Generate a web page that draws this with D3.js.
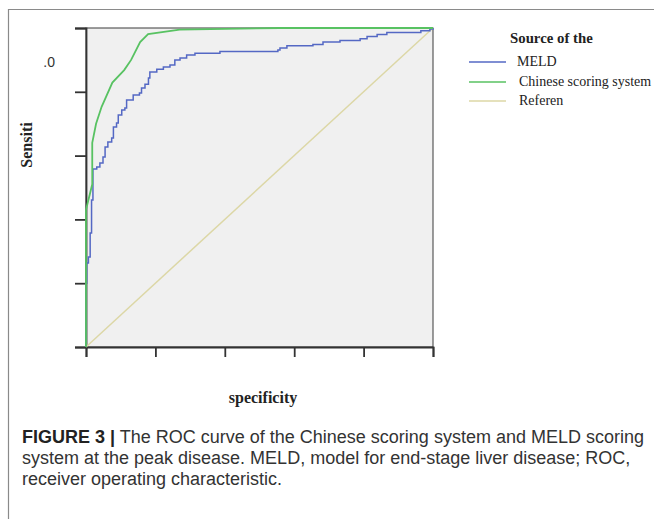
<!DOCTYPE html>
<html>
<head>
<meta charset="utf-8">
<script src="https://cdn.jsdelivr.net/npm/d3@7"></script>
<style>
  body { margin: 0; background: #fff; }
  svg { display: block; }
</style>
</head>
<body>
<svg id="chart"></svg>
<script>
// ROC curve points (1 - specificity, sensitivity)
const meldFpr = [0, 0, 0.002, 0.007, 0.012, 0.016, 0.02, 0.031, 0.04, 0.049, 0.055, 0.063, 0.074, 0.079, 0.088, 0.093, 0.103, 0.112, 0.117, 0.136, 0.154, 0.16, 0.17, 0.18, 0.184, 0.204, 0.223, 0.242, 0.256, 0.271, 0.29, 0.314, 0.386, 0.553, 0.559, 0.579, 0.654, 0.683, 0.732, 0.79, 0.81, 0.839, 0.867, 0.965, 0.991, 1];
const meldTpr = [0, 0.2, 0.263, 0.282, 0.357, 0.461, 0.558, 0.564, 0.577, 0.596, 0.627, 0.643, 0.655, 0.69, 0.702, 0.727, 0.743, 0.749, 0.774, 0.79, 0.796, 0.812, 0.824, 0.843, 0.862, 0.871, 0.878, 0.884, 0.9, 0.906, 0.915, 0.921, 0.926, 0.931, 0.937, 0.944, 0.948, 0.956, 0.961, 0.966, 0.973, 0.98, 0.986, 0.991, 0.997, 1];

const chineseFpr = [0, 0, 0.018, 0.018, 0.029, 0.045, 0.076, 0.11, 0.13, 0.156, 0.179, 0.27, 0.56, 1];
const chineseTpr = [0, 0.43, 0.51, 0.64, 0.70, 0.753, 0.829, 0.868, 0.90, 0.956, 0.981, 0.995, 1, 1];

const referenceFpr = [0, 1];
const referenceTpr = [0, 1];

const tickValues = [0, 0.2, 0.4, 0.6, 0.8, 1];
const legendLabels = ["MELD", "Chinese scoring system", "Referen"];
const legendColors = ["#5468c4", "#58c262", "#dcd7a6"];

const width = 654;
const height = 519;

const svg = d3.select("#chart").attr("width", width).attr("height", height);

// frame left & top (cropped figure border)
svg.append("path")
    .attr("d", "M8.5,519 V9.5 H654")
    .attr("fill", "none")
    .attr("stroke", "#8a8a8a")
    .attr("stroke-width", 1.2);

const plot = { left: 86, right: 433, top: 28, bottom: 347 };

const x = d3.scaleLinear().domain([0, 1]).range([plot.left, plot.right]);
const y = d3.scaleLinear().domain([0, 1]).range([plot.bottom, plot.top]);

svg.append("rect")
    .attr("x", plot.left)
    .attr("y", plot.top)
    .attr("width", plot.right - plot.left)
    .attr("height", plot.bottom - plot.top)
    .attr("fill", "#f0f0f0")
    .attr("stroke", "#3a3a3a")
    .attr("stroke-width", 1);

// axes without tick labels
const xAxis = svg.append("g")
    .attr("transform", `translate(0,${plot.bottom})`)
    .call(d3.axisBottom(x).tickValues(tickValues).tickSize(10).tickFormat(""));
const yAxis = svg.append("g")
    .attr("transform", `translate(${plot.left},0)`)
    .call(d3.axisLeft(y).tickValues(tickValues).tickSize(11).tickFormat(""));

[xAxis, yAxis].forEach(g => {
    g.select(".domain").attr("stroke", "#333").attr("stroke-width", 1.8);
    g.selectAll(".tick line").attr("stroke", "#333").attr("stroke-width", 1.8);
});

// curves
const line = d3.line().x(d => x(d[0])).y(d => y(d[1]));
const stepLine = d3.line().x(d => x(d[0])).y(d => y(d[1])).curve(d3.curveStepAfter);

svg.append("path")
    .datum(d3.zip(referenceFpr, referenceTpr))
    .attr("d", line)
    .attr("fill", "none")
    .attr("stroke", legendColors[2])
    .attr("stroke-width", 1.5);

svg.append("path")
    .datum(d3.zip(meldFpr, meldTpr))
    .attr("d", stepLine)
    .attr("fill", "none")
    .attr("stroke", legendColors[0])
    .attr("stroke-width", 1.5);

svg.append("path")
    .datum(d3.zip(chineseFpr, chineseTpr))
    .attr("d", line)
    .attr("fill", "none")
    .attr("stroke", legendColors[1])
    .attr("stroke-width", 1.8);

// leftover tick label
svg.append("text")
    .attr("x", 55)
    .attr("y", 67)
    .attr("text-anchor", "end")
    .attr("font-family", "Liberation Sans, Arial, sans-serif")
    .attr("font-size", 14)
    .attr("fill", "#333")
    .text(".0");

// axis titles
svg.append("text")
    .attr("transform", "translate(32,145) rotate(-90)")
    .attr("text-anchor", "middle")
    .attr("font-family", "Liberation Serif, Times New Roman, serif")
    .attr("font-weight", "bold")
    .attr("font-size", 16)
    .attr("fill", "#222")
    .text("Sensiti");

svg.append("text")
    .attr("x", 263)
    .attr("y", 403)
    .attr("text-anchor", "middle")
    .attr("font-family", "Liberation Serif, Times New Roman, serif")
    .attr("font-weight", "bold")
    .attr("font-size", 16)
    .attr("fill", "#222")
    .text("specificity");

// legend
const legend = svg.append("g").attr("font-family", "Liberation Serif, Times New Roman, serif");
legend.append("text")
    .attr("x", 510)
    .attr("y", 43)
    .attr("font-weight", "bold")
    .attr("font-size", 14.8)
    .attr("fill", "#222")
    .text("Source of the");

const legendY = [62, 82, 101];
legendLabels.forEach((label, i) => {
    legend.append("line")
        .attr("x1", 469).attr("x2", 506)
        .attr("y1", legendY[i]).attr("y2", legendY[i])
        .attr("stroke", legendColors[i])
        .attr("stroke-width", 1.5);
    legend.append("text")
        .attr("x", i === 0 ? 517 : 519)
        .attr("y", legendY[i] + 4)
        .attr("font-size", 14)
        .attr("fill", "#222")
        .text(label);
});

// caption
const caption = svg.append("g")
    .attr("font-family", "Liberation Sans, Arial, sans-serif")
    .attr("font-size", 18)
    .attr("fill", "#333");

const line1 = caption.append("text").attr("x", 22).attr("y", 443);
line1.append("tspan").attr("font-weight", "bold").attr("fill", "#222").text("FIGURE 3 |");
line1.append("tspan").text(" The ROC curve of the Chinese scoring system and MELD scoring");

caption.append("text").attr("x", 22).attr("y", 464)
    .text("system at the peak disease. MELD, model for end-stage liver disease; ROC,");
caption.append("text").attr("x", 22).attr("y", 485)
    .text("receiver operating characteristic.");
</script>
</body>
</html>
